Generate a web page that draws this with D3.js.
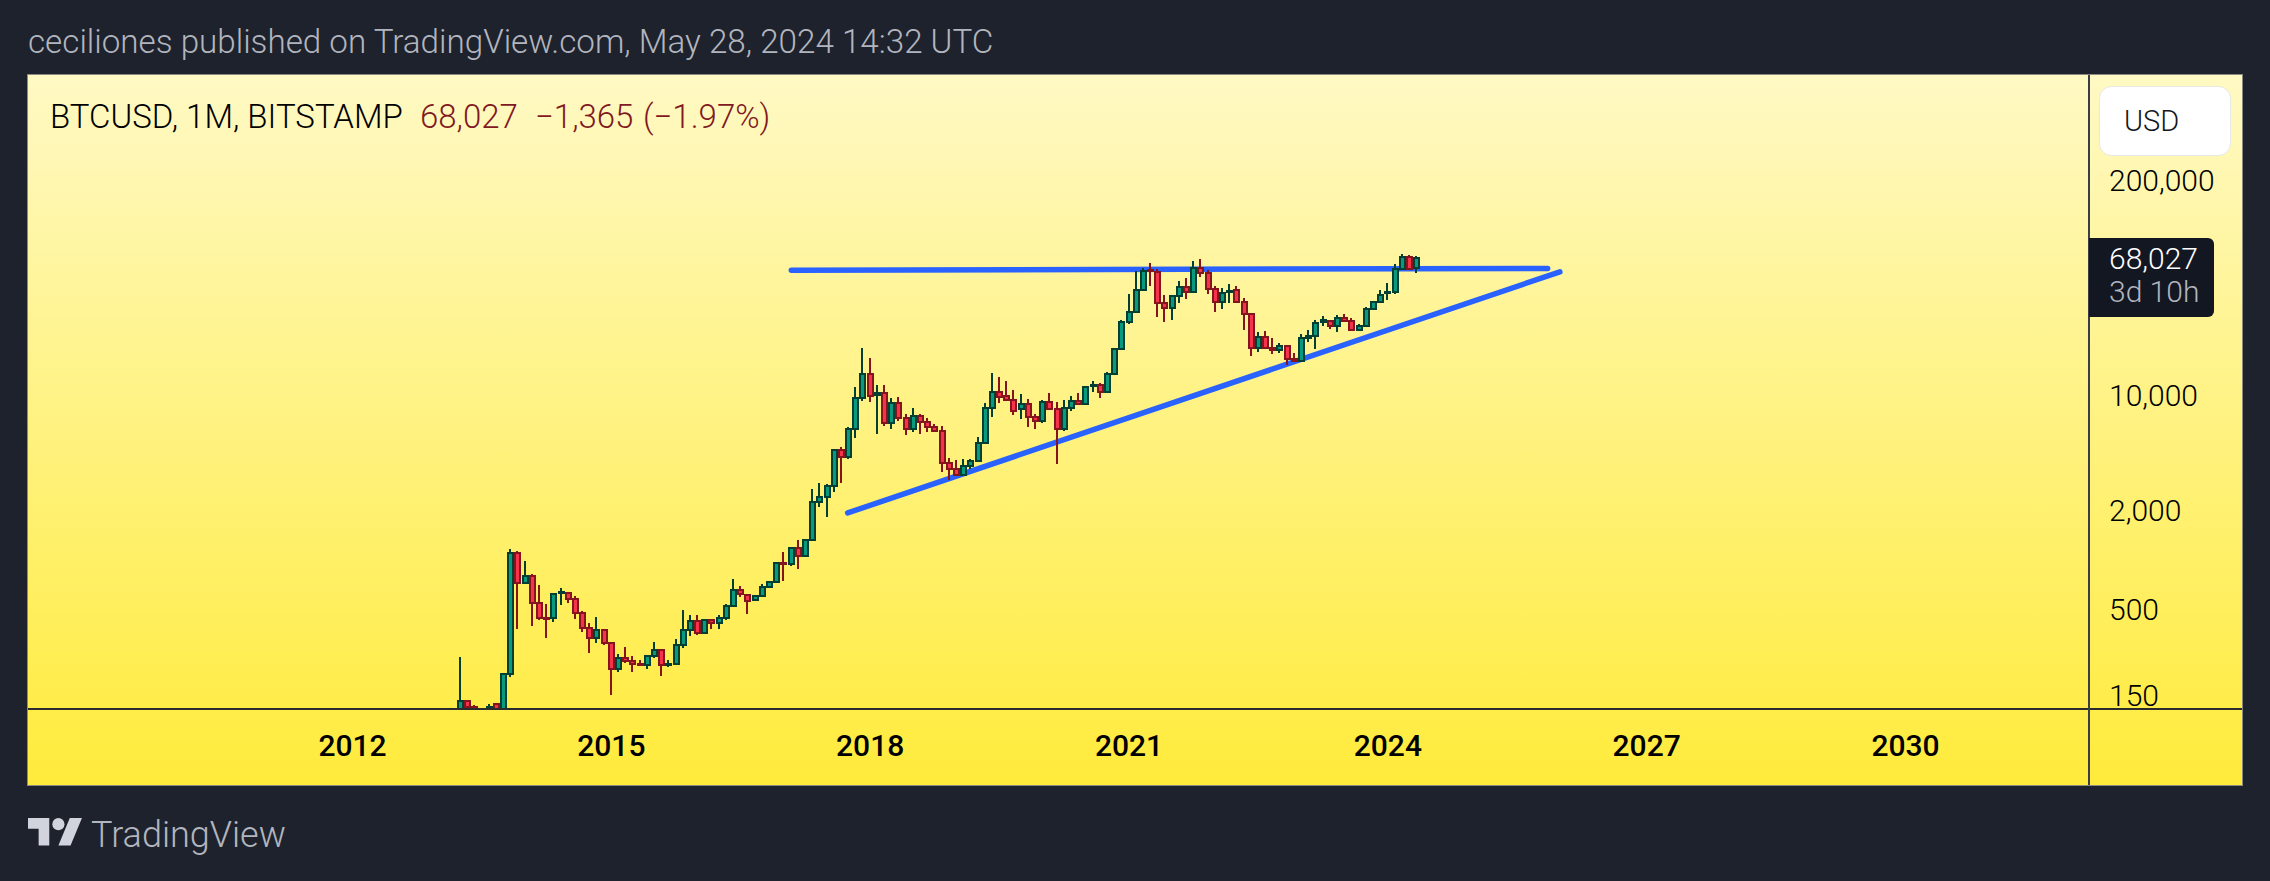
<!DOCTYPE html>
<html><head><meta charset="utf-8">
<script src="https://cdn.jsdelivr.net/npm/d3@7/dist/d3.min.js"></script>
<style>
html,body{margin:0;padding:0;background:#1e222d;overflow:hidden}
svg{display:block}
text{font-family:Roboto,sans-serif}
</style></head><body>
<svg id="c" width="2270" height="881"></svg>
<script>
const firstBar = 15; // Apr 2013, bars counted monthly from Jan 2012
const opens = [93,140,129,97,106,134,125,204,1107,727,798,548,447,445,636,635,581,478,387,336,376,316,218,254,244,236,230,263,284,231,236,306,376,427,362,434,416,446,527,659,618,574,605,687,738,965,955,1186,1062,1327,2259,2421,2825,4677,4236,6282,9683,13552,10100,10300,6792,9036,7244,6282,7534,6855,6397,6124,3882,3597,3311,3741,4009,5164,8414,10544,9863,9333,8222,8913,7379,7015,9162,8299,6237,8414,9290,8913,11350,11614,10544,13552,19231,28000,32062,43451,57800,55719,36141,34119,40179,45499,42462,59704,54954,44259,36898,42700,43652,36644,30974,19498,22646,19498,18967,20045,16711,16106,22438,22900,28000,28200,26303,29648,28445,25061,26303,33651,36644,41700,42300,58884,68707,59000];
const highs = [259,142,132,110,134,136,208,1163,1140,993,824,710,543,622,680,640,608,493,417,453,382,316,270,298,263,248,267,320,284,248,333,500,467,467,440,434,467,543,772,700,618,610,720,745,975,1127,1200,1334,1340,2722,2958,2900,4750,4875,6400,11194,19319,16788,11508,11500,9594,9727,7674,8337,7674,7244,6668,6500,4198,4083,4140,4100,5559,8933,13614,12853,12162,10740,10139,9462,7674,9400,10280,9078,9333,9863,10280,11194,12162,11830,13900,19500,28500,41115,56494,59704,63241,58345,40551,40550,49317,51404,65312,67143,57544,46238,44771,47315,46025,38905,30974,24155,24491,22233,20701,20045,17989,23496,24831,28576,30200,28840,30620,31046,29376,27040,34200,37000,43451,47973,62517,71945,70958,69984];
const lows = [50,79,88,65,100,110,118,196,385,720,400,434,338,423,536,552,441,368,274,316,306,152,210,238,210,230,219,254,198,225,233,294,347,352,362,385,380,434,527,600,469,574,605,675,738,750,916,887,1062,1327,2113,1820,2576,2958,4100,5483,9204,9078,5794,6486,6295,6950,5715,5957,5794,6039,5957,3451,3083,3311,3311,3597,4009,5164,7379,8974,9333,7603,7145,6397,6295,6792,8299,3811,6067,8035,8690,8800,10423,9594,10400,13243,19000,27290,31696,43451,46238,29785,27925,28576,36392,38548,42462,52360,41305,32062,33497,36392,36644,24946,17338,18323,19055,17824,17989,15205,16106,16106,20989,19055,26303,25177,24155,28445,25061,24604,26303,33500,36644,37844,41500,57544,57810,55463];
const closes = [140,129,97,106,129,125,204,1107,727,798,548,447,445,622,642,581,478,387,336,376,316,218,254,244,236,230,263,284,231,236,306,376,427,362,434,416,446,527,659,624,565,605,687,738,962,950,1186,1062,1327,2259,2421,2825,4677,4236,6282,9683,13552,9954,10300,6792,9036,7244,6282,7534,6855,6397,6124,3882,3597,3311,3741,4009,5164,8414,10544,9772,9333,8035,8913,7379,7015,9162,8299,6237,8414,9290,8913,11194,11614,10544,13552,19231,28000,32062,43451,57016,56754,36141,34119,40179,45499,42462,59704,54954,44259,36898,41879,43053,36644,30974,19498,22646,19498,18967,20045,16711,16106,22438,22900,27669,28840,26303,29648,28445,25061,26303,33651,36644,40926,42300,58884,68707,58884,68027];
const yearLabels = ["2012","2015","2018","2021","2024","2027","2030"];
const yearBars = [0,36,72,108,144,180,216];
const priceTicks = [200000,10000,2000,500,150];
const lastPrice = 68027;
const titleText = "ceciliones published on TradingView.com, May 28, 2024 14:32 UTC";
const symbolText = "BTCUSD, 1M, BITSTAMP";
const legendClose = "68,027", legendChange = "−1,365", legendPct = "(−1.97%)";
const countdown = "3d 10h";
const resistance = [[61.1,57544],[166.3,58884]];
const support = [[68.94,1936],[168.0,56234]];

const svg = d3.select("#c");
const L=28,R=2242,T=75,B=785,DIV=2089,HL=709;
const x = d3.scaleLinear().domain([0,216]).range([352,1905]);
const y = d3.scaleLog().domain([150,200000]).range([696,181]);

const defs = svg.append("defs");
const g = defs.append("linearGradient").attr("id","bg").attr("x1",0).attr("x2",0).attr("y1",0).attr("y2",1);
g.append("stop").attr("offset",0).attr("stop-color","#fff9c4");
g.append("stop").attr("offset",1).attr("stop-color","#ffeb3b");
defs.append("clipPath").attr("id","plot").append("rect").attr("x",L).attr("y",T).attr("width",DIV-L).attr("height",HL-T);

svg.append("rect").attr("x",L-.5).attr("y",T-.5).attr("width",R-L+1).attr("height",B-T+1)
  .attr("fill","url(#bg)").attr("stroke","#8a8a80").attr("stroke-width",1);

// header
svg.append("text").attr("x",28).attr("y",53).attr("font-size",33.2).attr("font-weight",300).attr("fill","#b2b5be").text(titleText);
svg.append("text").attr("x",50).attr("y",128).attr("font-size",33).attr("font-weight",300).attr("fill","#000").text(symbolText);
[[420,legendClose],[535,legendChange],[643,legendPct]].forEach(([px,t])=>
  svg.append("text").attr("x",px).attr("y",128).attr("font-size",33).attr("font-weight",300).attr("fill","#801922").text(t));

// trend lines
const lineGen = d3.line().x(d=>x(d[0])).y(d=>y(d[1]));
const plot = svg.append("g").attr("clip-path","url(#plot)");
[resistance,support].forEach(s=>plot.append("path").attr("d",lineGen(s)).attr("fill","none")
  .attr("stroke","#2962ff").attr("stroke-width",5.5).attr("stroke-linecap","round"));

// candles
const bars = d3.range(opens.length).map(i=>({i:i+firstBar,o:opens[i],h:highs[i],l:lows[i],c:closes[i]}));
const cs = plot.selectAll("g.k").data(bars).join("g").attr("class","k").attr("shape-rendering","crispEdges");
const col = d=>d.c>=d.o?"#033f33":"#85141f";
cs.append("line").attr("x1",d=>Math.round(x(d.i))).attr("x2",d=>Math.round(x(d.i)))
  .attr("y1",d=>y(d.h)).attr("y2",d=>y(d.l)).attr("stroke",col).attr("stroke-width",2);
cs.append("rect").attr("x",d=>Math.round(x(d.i))-2.5).attr("width",5)
  .attr("y",d=>Math.min(y(d.o),y(d.c))).attr("height",d=>Math.max(1,Math.abs(y(d.o)-y(d.c))))
  .attr("fill",d=>d.c>=d.o?"#089a7e":"#f5344a").attr("stroke",col).attr("stroke-width",2);

// separators
svg.append("line").attr("x1",L).attr("x2",R).attr("y1",HL).attr("y2",HL).attr("stroke","#2b2b2b").attr("stroke-width",2);
svg.append("line").attr("x1",DIV).attr("x2",DIV).attr("y1",T).attr("y2",B).attr("stroke","#3a3d45").attr("stroke-width",2);

// axes
const xAxis = d3.axisBottom(x).tickValues(yearBars).tickFormat((d,i)=>yearLabels[i]).tickSize(0).tickPadding(0);
const xg = svg.append("g").attr("transform",`translate(0,${HL+26})`).call(xAxis);
xg.select(".domain").remove();
xg.selectAll("text").attr("font-size",30).attr("font-weight",500).attr("fill","#000").attr("font-family","Roboto").attr("dy","0.71em");
const yAxis = d3.axisRight(y).tickValues(priceTicks).tickFormat(d3.format(",")).tickSize(0).tickPadding(20);
const yg = svg.append("g").attr("transform",`translate(${DIV},0)`).call(yAxis);
yg.select(".domain").remove();
yg.selectAll("text").attr("font-size",30).attr("font-weight",300).attr("fill","#000").attr("font-family","Roboto");

// USD button
svg.append("rect").attr("x",2099.5).attr("y",86.5).attr("width",131).attr("height",69).attr("rx",12).attr("fill","#fff").attr("stroke","#e8e8e4");
svg.append("text").attr("x",2124).attr("y",131).attr("font-size",29).attr("font-weight",300).attr("fill","#131722").text("USD");

// last price tag
svg.append("path").attr("d","M2089 238H2208a6 6 0 0 1 6 6V311a6 6 0 0 1 -6 6H2089Z").attr("fill","#131722");
svg.append("text").attr("x",2109).attr("y",y(lastPrice)+10.5).attr("font-size",30).attr("font-weight",300).attr("fill","#fff").text(d3.format(",")(lastPrice));
svg.append("text").attr("x",2109).attr("y",302).attr("font-size",30).attr("font-weight",300).attr("fill","#b2b5be").text(countdown);

// logo
const logo = svg.append("g").attr("transform","translate(28,812) scale(1.52)").attr("fill","#d1d4dc");
logo.append("path").attr("d","M14 22H7V11H0V4h14v18zM28 22h-8l7.5-18h8L28 22z");
logo.append("circle").attr("cx",20).attr("cy",8).attr("r",4);
svg.append("text").attr("x",91).attr("y",847).attr("font-size",36).attr("font-weight",300).attr("fill","#b2b5be").text("TradingView");
</script></body></html>
